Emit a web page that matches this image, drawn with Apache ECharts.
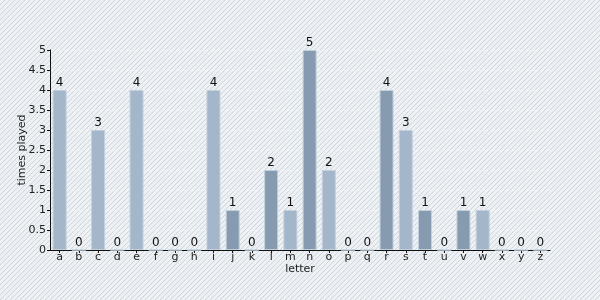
<!DOCTYPE html>
<html>
<head>
<meta charset="utf-8">
<script src="https://cdn.jsdelivr.net/npm/echarts@6/dist/echarts.min.js"></script>
<style>html,body{margin:0;padding:0;}#c{width:600px;height:300px;}</style>
</head>
<body>
<div id="c"></div>
<script>
var letters = ['a','b','c','d','e','f','g','h','i','j','k','l','m','n','o','p','q','r','s','t','u','v','w','x','y','z'];
var timesPlayed = [4,0,3,0,4,0,0,0,4,1,0,2,1,5,2,0,0,4,3,1,0,1,1,0,0,0];
var yTicks = ['0','0.5','1','1.5','2','2.5','3','3.5','4','4.5','5'];

var tile = document.createElement('canvas');
tile.width = 5; tile.height = 5;
var tc = tile.getContext('2d');
tc.fillStyle = '#eef1f4';
tc.fillRect(0,0,5,5);
tc.fillStyle = '#cfd5dc';
for (var x = 0; x < 5; x++) { for (var y = 0; y < 5; y++) { if ((x + y) % 5 === 4) tc.fillRect(x, y, 1, 1); } }

var chart = echarts.init(document.getElementById('c'), null, {renderer: 'canvas'});
var font = 'DejaVu Sans';
chart.setOption({
  animation: false,
  backgroundColor: {image: tile, repeat: 'repeat'},
  textStyle: {fontFamily: font},
  grid: {left: 50, right: 50, top: 50, bottom: 50, containLabel: false},
  xAxis: {
    type: 'category', data: letters,
    name: 'letter', nameLocation: 'middle', nameGap: 14, nameMoveOverlap: false,
    nameTextStyle: {color: '#222', fontSize: 11, fontFamily: font},
    axisLine: {lineStyle: {color: '#111', width: 1}},
    axisTick: {show: true, alignWithLabel: true, length: 3, lineStyle: {color: '#111'}},
    axisLabel: {color: '#222', fontSize: 11, margin: 2, interval: 0, fontFamily: font},
    splitLine: {show: false}
  },
  yAxis: {
    type: 'value', min: 0, max: 5, interval: 0.5,
    name: 'times played', nameLocation: 'middle', nameGap: 22, nameRotate: 90, nameMoveOverlap: false,
    nameTextStyle: {color: '#222', fontSize: 11, fontFamily: font},
    axisLine: {show: true, lineStyle: {color: '#111', width: 1}},
    axisTick: {show: true, length: 3, lineStyle: {color: '#111'}},
    axisLabel: {color: '#222', fontSize: 11, margin: 4, fontFamily: font,
      formatter: function (v) { return yTicks[Math.round(v * 2)]; }},
    splitLine: {show: true, lineStyle: {color: 'rgba(255,255,255,0.45)', type: [4, 3], width: 1}}
  },
  series: [{
    type: 'bar',
    data: timesPlayed,
    barWidth: 14,
    itemStyle: {
      color: function (p) { return p.dataIndex % 2 === 0 ? '#a4b6ca' : '#869bb0'; },
      borderColor: '#c2d0de', borderWidth: 1
    },
    label: {show: true, position: 'top', distance: 1, color: '#111', fontSize: 12, fontFamily: font}
  }]
});
</script>
</body>
</html>
